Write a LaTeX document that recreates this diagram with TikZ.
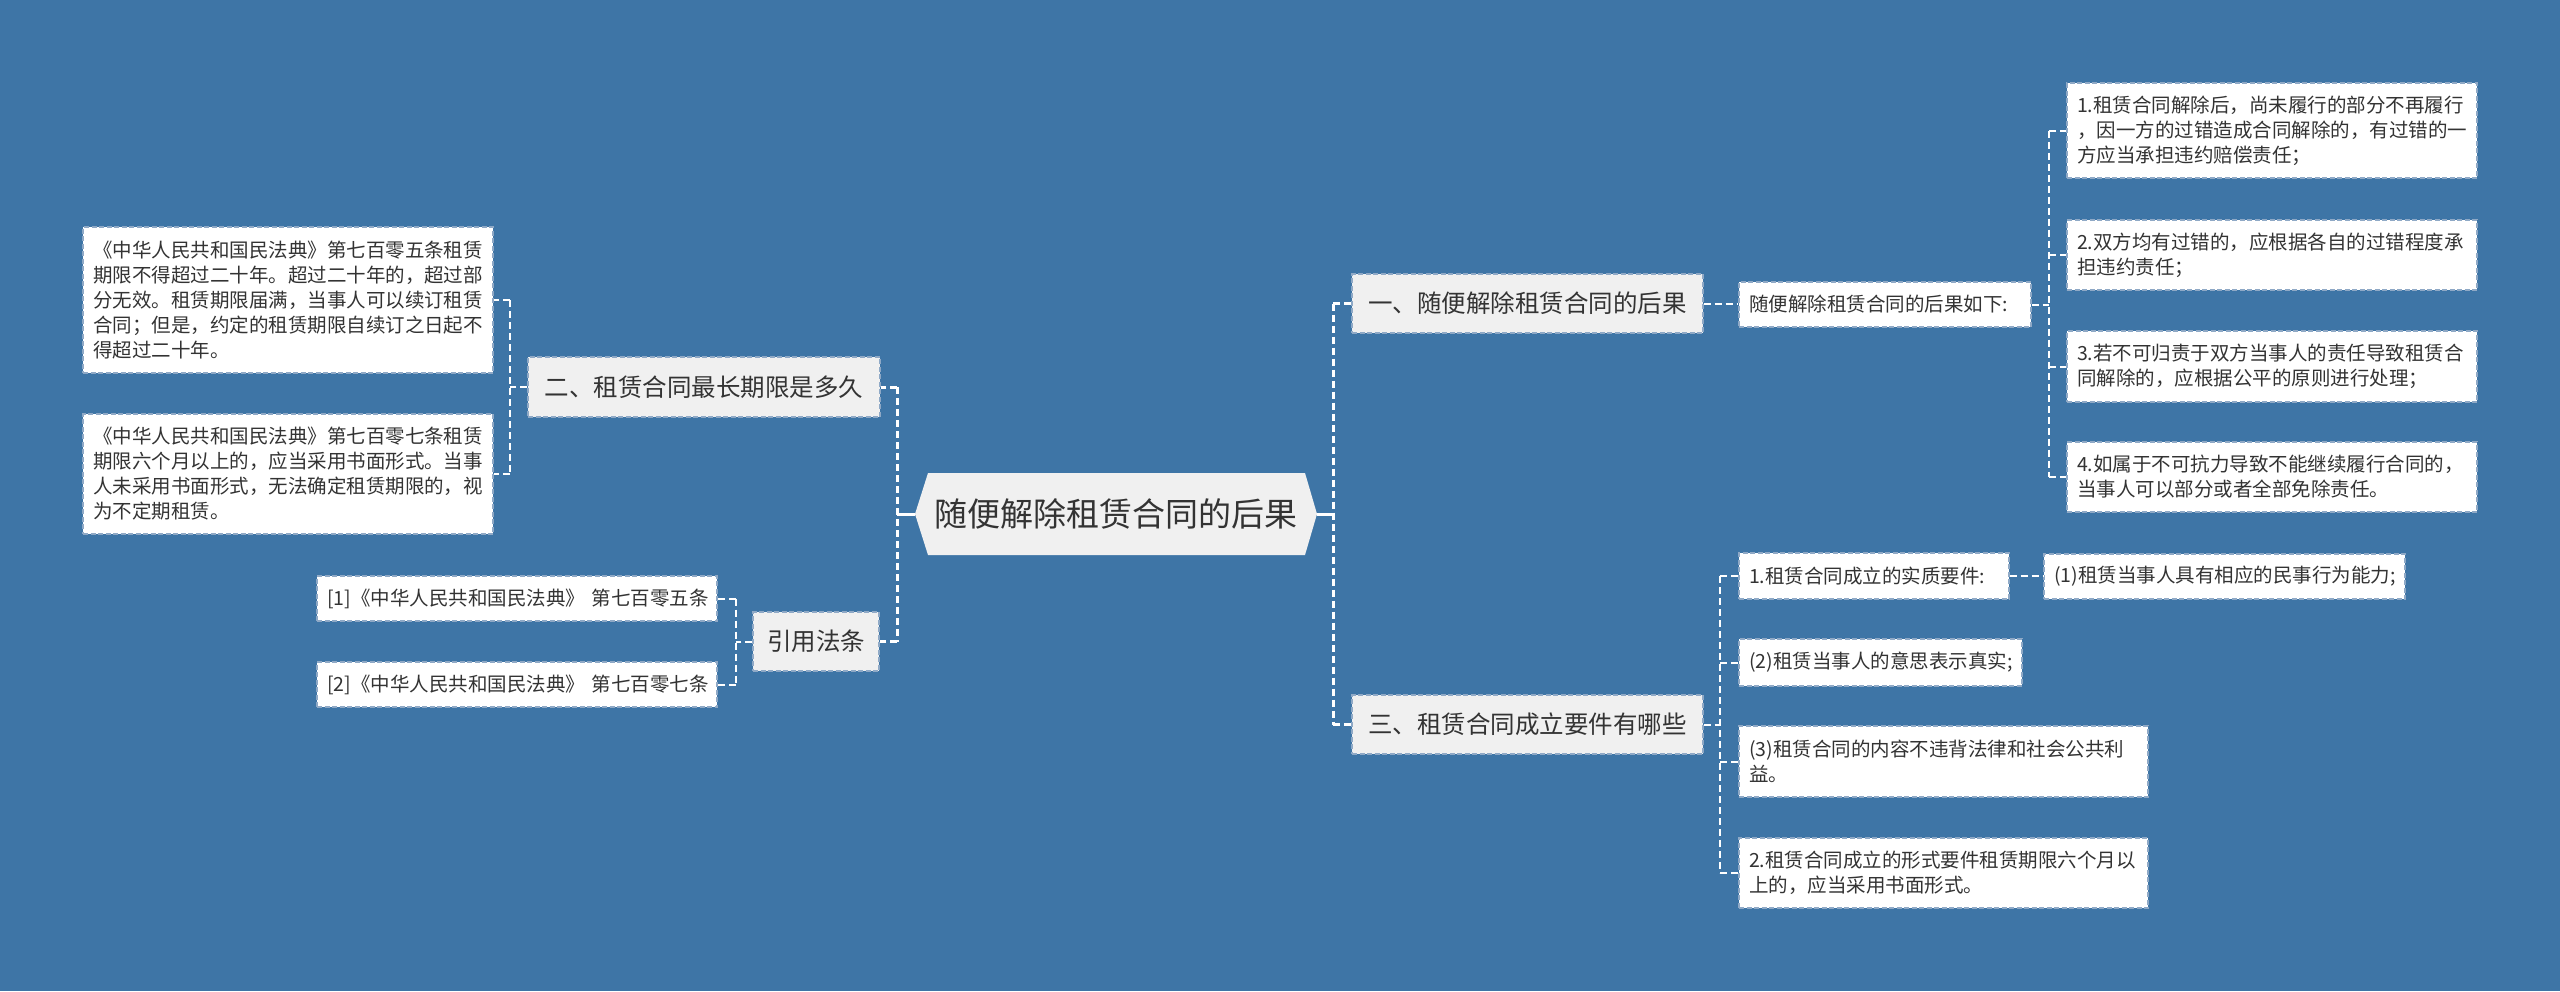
\documentclass[tikz,border=0pt]{standalone}
\usepackage{fontspec}
\setmainfont{Noto Sans CJK SC}
\definecolor{bg}{HTML}{3E75A6}
\definecolor{midfill}{HTML}{F0F0F0}
\definecolor{bordc}{HTML}{8FA9C6}
\definecolor{txt}{HTML}{333333}
\begin{document}
\begin{tikzpicture}[x=1pt,y=-1pt,
 leaf/.style={draw=bordc, line width=1.2pt, dash pattern=on 5pt off 2.5pt, fill=white, inner xsep=10pt, inner ysep=0pt, text=txt, align=left, font=\fontsize{19.5}{25}\selectfont},
 mid/.style={draw=bordc, line width=1.2pt, dash pattern=on 5pt off 2.5pt, fill=midfill, inner sep=0pt, text=txt, align=center, font=\fontsize{24.5}{30}\selectfont},
 conn/.style={draw=white, line width=2pt, dash pattern=on 7pt off 4pt},
 trunk/.style={draw=white, line width=3pt, dash pattern=on 7pt off 4pt},
 stub/.style={draw=white, line width=3pt},
]
\fill[bg] (0,0) rectangle (2560,991);
\useasboundingbox (0,0) rectangle (2560,991);

% root
\fill[midfill] (915,514) -- (928,473) -- (1305,473) -- (1317,514) -- (1305,555) -- (928,555) -- cycle;
\node[text=txt, font=\fontsize{33}{40}\selectfont, inner sep=0pt] (root) at (1116,514) {随便解除租赁合同的后果};
\coordinate (rootL) at (915,514);
\coordinate (rootR) at (1317,514);

% main branches
\node[mid, minimum width=351pt, minimum height=59pt] (b1) at (1527.5,303.5) {一、随便解除租赁合同的后果};
\node[mid, minimum width=351pt, minimum height=59pt] (b3) at (1527.5,724.5) {三、租赁合同成立要件有哪些};
\node[mid, minimum width=352pt, minimum height=60pt] (b2) at (704,387) {二、租赁合同最长期限是多久};
\node[mid, minimum width=126pt, minimum height=59pt] (b4) at (816,641.5) {引用法条};

% branch 1 children
\node[leaf, text width=272pt, minimum height=45pt] (s1) at (1885,304.5) {随便解除租赁合同的后果如下:};
\node[leaf, text width=390pt, minimum height=95pt] (r1) at (2272,130.5) {1.租赁合同解除后，尚未履行的部分不再履行\\，因一方的过错造成合同解除的，有过错的一\\方应当承担违约赔偿责任；};
\node[leaf, text width=390pt, minimum height=70pt] (r2) at (2272,255) {2.双方均有过错的，应根据各自的过错程度承\\担违约责任；};
\node[leaf, text width=390pt, minimum height=71pt] (r3) at (2272,366.5) {3.若不可归责于双方当事人的责任导致租赁合\\同解除的，应根据公平的原则进行处理；};
\node[leaf, text width=390pt, minimum height=70pt] (r4) at (2272,477) {4.如属于不可抗力导致不能继续履行合同的，\\当事人可以部分或者全部免除责任。};

% branch 2 children
\node[leaf, text width=390pt, minimum height=146pt] (lA) at (288,300) {《中华人民共和国民法典》第七百零五条租赁\\期限不得超过二十年。超过二十年的，超过部\\分无效。租赁期限届满，当事人可以续订租赁\\合同；但是，约定的租赁期限自续订之日起不\\得超过二十年。};
\node[leaf, text width=390pt, minimum height=120pt] (lB) at (288,474) {《中华人民共和国民法典》第七百零七条租赁\\期限六个月以上的，应当采用书面形式。当事\\人未采用书面形式，无法确定租赁期限的，视\\为不定期租赁。};

% citations
\node[leaf, text width=380pt, minimum height=45pt] (L1) at (517,598.5) {[1]《中华人民共和国民法典》~第七百零五条};
\node[leaf, text width=380pt, minimum height=45pt] (L2) at (517,684.5) {[2]《中华人民共和国民法典》~第七百零七条};

% branch 3 children
\node[leaf, text width=250pt, minimum height=46pt] (c1) at (1874,576) {1.租赁合同成立的实质要件:};
\node[leaf, text width=341pt, minimum height=45pt] (c1a) at (2224.5,576.5) {(1)租赁当事人具有相应的民事行为能力;};
\node[leaf, text width=263pt, minimum height=47pt] (c2) at (1880.5,662.5) {(2)租赁当事人的意思表示真实;};
\node[leaf, text width=389pt, minimum height=71pt] (c3) at (1943.5,761.5) {(3)租赁合同的内容不违背法律和社会公共利\\益。};
\node[leaf, text width=389pt, minimum height=70pt] (c4) at (1943.5,873) {2.租赁合同成立的形式要件租赁期限六个月以\\上的，应当采用书面形式。};

% root left connectors
\coordinate (tl) at (897,514);
\draw[stub] (rootL) -- (tl);
\draw[trunk] (tl |- b2.east) -- (tl |- b4.east);
\draw[trunk] (tl |- b2.east) -- (b2.east);
\draw[trunk] (tl |- b4.east) -- (b4.east);

% root right connectors
\coordinate (tr) at (1333,514);
\draw[stub] (rootR) -- (tr);
\draw[trunk] (tr |- b1.west) -- (tr |- b3.west);
\draw[trunk] (tr |- b1.west) -- (b1.west);
\draw[trunk] (tr |- b3.west) -- (b3.west);

% b1 -> s1 -> r
\draw[conn] (b1.east) -- (b1.east -| s1.west);
\coordinate (ts) at (2049,304.5);
\draw[conn] (s1.east) -- (ts);
\draw[conn] (ts |- r1.west) -- (ts |- r4.west);
\foreach \n in {r1,r2,r3,r4} \draw[conn] (ts |- \n.west) -- (\n.west);

% b2 -> lA, lB
\coordinate (tb2) at (510,387);
\draw[conn] (b2.west) -- (tb2);
\draw[conn] (tb2 |- lA.east) -- (tb2 |- lB.east);
\foreach \n in {lA,lB} \draw[conn] (tb2 |- \n.east) -- (\n.east);

% b4 -> L1, L2
\coordinate (tb4) at (736,641.5);
\draw[conn] (b4.west) -- (tb4);
\draw[conn] (tb4 |- L1.east) -- (tb4 |- L2.east);
\foreach \n in {L1,L2} \draw[conn] (tb4 |- \n.east) -- (\n.east);

% b3 -> c
\coordinate (tb3) at (1720,724.5);
\draw[conn] (b3.east) -- (tb3);
\draw[conn] (tb3 |- c1.west) -- (tb3 |- c4.west);
\foreach \n in {c1,c2,c3,c4} \draw[conn] (tb3 |- \n.west) -- (\n.west);
\draw[conn] (c1.east) -- (c1.east -| c1a.west);
\end{tikzpicture}
\end{document}
